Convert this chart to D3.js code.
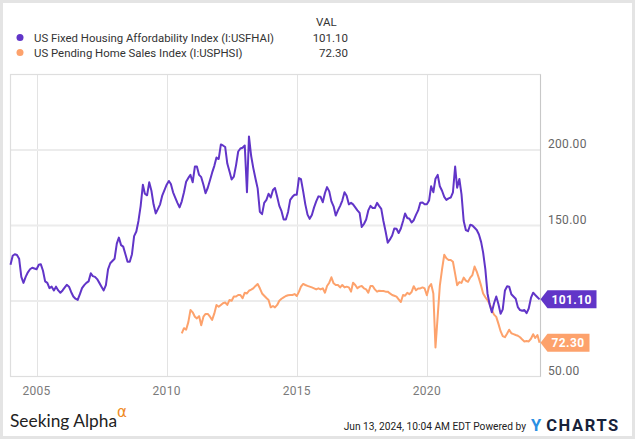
<!DOCTYPE html>
<html><head><meta charset="utf-8">
<script src="https://cdn.jsdelivr.net/npm/d3@7"></script>
<style>body{margin:0;background:#fff}svg{display:block;font-family:Roboto,"Noto Sans",sans-serif}</style>
</head><body><svg id="c" width="635" height="439"></svg>
<script>
// Monthly values, starting Jan 2004
const affordabilityStart = [2004, 0];
const affordability = [
 124,130,131,130.5,128,116,112,116,119,121,122,121.5,
 121,124,124.4,120,113,112,108.5,109.5,107,109.5,107,105.5,
 107,109,110.7,109.5,106,103,101.5,100.7,104.5,108.5,110.5,112,
 113,118.4,116.5,116,114.5,112,109.5,107,110.5,121,125,126.5,
 128,138,142,137,136,131,126,126,131,143,146,153,
 163,177,171,170,178.6,173,164,158,161,164,170,173.5,
 177,179.5,177.5,172,168.5,165,162,166,172,179,181.5,183.5,
 178.6,189,189,183.5,182,177,171.4,175,180,185,189.5,195,
 194,203.7,203,202,191,185.7,180.5,182.4,190,199,201,201.5,
 203,172,209,196,188,181,174.6,159,157.5,165,167,171,
 168.5,173.5,174.8,169,163,159.5,154,154,159,167,169,170.4,
 170.4,181.4,180.7,172.6,164,157.2,154.4,157,162,166,169.3,169,
 165.4,171.5,175.4,172.6,166,162.7,156.6,160,163,166.5,172,169.7,
 164,165,164,162,160,158.3,149,151,154,160,163,161.6,
 161.6,165,163,161,153,146,138.6,140.8,143.4,148,147.8,145,
 148,153,158,155,154.5,152,153.5,157,160,165,165.2,164,
 164,166.5,176,172,181,183.5,176,173,169,167,168,168.5,
 172,189,175,180.8,170.8,153,147,146.2,150.5,150,148.5,147,
 144,139,132,121,105,97.5,92.5,98.5,103,98,91.5,94.5,
 107,109.8,109.5,104.5,103,101.5,96,94,93.5,94,92,95,
 102,105.5,104,102.5,101.1
];
// Monthly values, starting Aug 2010
const pendingStart = [2010, 7];
const pending = [
 78.6,82,81,86,94,
 92.5,89.6,88.5,90,84,89.6,91.4,91.4,89.6,87.5,91.8,97.4,
 96.2,97.4,98.5,99,97.4,100.7,100.2,103,103,104,104,101.8,
 105.5,105,106.8,107.5,108.4,110,111.3,108.4,105,103.5,102,100.7,
 95.8,96.7,95.8,97.4,100.2,101.5,102.4,103.3,103.8,104,104,104.6,
 103.3,106.2,109.5,111.3,110.6,110,109.5,109,108.4,107.7,108.4,107.7,
 108.4,105.5,109.9,112.1,115.7,111.7,110.6,110.6,109,110.6,109,109.5,
 109,106.2,112.1,110.6,108.4,109.5,109.9,108.4,107.7,105.5,109.9,109.9,
 107.7,106.2,106.8,106.7,106.6,106.2,106.2,105,104,103.5,102.9,101.1,
 99.3,104,103.5,105.4,104.5,106,109.8,107.1,108.3,108.3,109,108.3,
 103.8,109.4,111.2,105,69.2,90,110,121,130.6,128.3,127.2,127.2,
 126,118,110.5,112.5,112,115.5,113.5,112.7,115.5,117.2,122.8,119.5,
 115,110,105,102.5,100.5,98,94,91,89.5,85,80,76.8,
 76,78.5,81,78.6,78.1,77.5,77,76,74.5,73.2,73.5,73.2,
 75,78,75.5,77.5,72.3
];
const seriesNames = ["US Fixed Housing Affordability Index (I:USFHAI)","US Pending Home Sales Index (I:USPHSI)"];
const lastValues = ["101.10","72.30"];
const yGrid = [100,150,200];
const yTickLabels = [50,150,200];
const xTickYears = [2005,2010,2015,2020];
const colors = ["#6135c8","#fda26c"];

const toSeries = (start, vals) => vals.map((v,i)=>({d:new Date(start[0], start[1]+i, 1), v}));
const s1 = toSeries(affordabilityStart, affordability);
const s2 = toSeries(pendingStart, pending);

const svg = d3.select("#c");
const L=10.5, R=540.5, T=74.5, B=376.5;
const x = d3.scaleTime().domain([new Date(2004,0,1), new Date(2024,4,14)]).range([L,R]);
const y = d3.scaleLinear().domain([50,250]).range([B,T]);

// outer frame
svg.append("rect").attr("x",1.5).attr("y",1.5).attr("width",632).attr("height",436)
  .attr("fill","#fff").attr("stroke","#e4e4e4").attr("stroke-width",3);

// gridlines
const g = svg.append("g");
g.selectAll(".vg").data(xTickYears).join("line")
  .attr("x1",d=>Math.round(x(new Date(d,0,1)))+0.5).attr("x2",d=>Math.round(x(new Date(d,0,1)))+0.5)
  .attr("y1",T).attr("y2",B).attr("stroke","#e3e3e3").attr("stroke-width",1);
g.selectAll(".hg").data(yGrid).join("line")
  .attr("x1",L).attr("x2",R).attr("y1",d=>y(d)).attr("y2",d=>y(d))
  .attr("stroke","#ececec").attr("stroke-width",2);
// plot frame
svg.append("rect").attr("x",L).attr("y",T).attr("width",R-L).attr("height",B-T)
  .attr("fill","none").attr("stroke","#dedede").attr("stroke-width",1.2);
svg.append("line").attr("x1",R).attr("x2",R).attr("y1",T).attr("y2",B).attr("stroke","#c8c8c8");

// y labels
svg.selectAll(".yl").data(yTickLabels).join("text")
  .attr("x",548).attr("y",d=>y(d)-2).attr("font-size",12).attr("fill","#666")
  .attr("letter-spacing",0.3).text(d=>d3.format(".2f")(d));
// x labels
svg.selectAll(".xl").data(xTickYears).join("text")
  .attr("x",d=>x(new Date(d,0,1))).attr("y",395).attr("text-anchor","middle")
  .attr("font-size",12).attr("fill","#7a7a7a").attr("letter-spacing",0.3).text(d=>d);

// lines
const line = d3.line().x(d=>x(d.d)).y(d=>y(d.v));
svg.append("path").datum(s2).attr("d",line).attr("fill","none").attr("stroke",colors[1])
  .attr("stroke-width",2).attr("stroke-linejoin","round");
svg.append("path").datum(s1).attr("d",line).attr("fill","none").attr("stroke",colors[0])
  .attr("stroke-width",2).attr("stroke-linejoin","round");

// badges
const badges = [{s:s1, label:lastValues[0], c:colors[0], w:56},{s:s2, label:lastValues[1], c:colors[1], w:49}];
badges.forEach(b=>{
  const yy = y(b.s[b.s.length-1].v);
  svg.append("path").attr("d",`M${R},${yy} L${R+7},${yy-9} L${R+b.w},${yy-9} L${R+b.w},${yy+9} L${R+7},${yy+9} Z`).attr("fill",b.c);
  svg.append("text").attr("x",R+11).attr("y",yy+4.5).attr("font-size",12).attr("font-weight","bold")
    .attr("fill","#fff").attr("letter-spacing",0.4).text(b.label);
});

// legend
svg.append("text").attr("x",316).attr("y",26).attr("font-size",11.5).attr("fill","#333").text("VAL");
seriesNames.forEach((n,i)=>{
  const yy = 42 + i*15;
  svg.append("circle").attr("cx",20).attr("cy",yy-4.5).attr("r",3.5).attr("fill",colors[i]);
  svg.append("text").attr("x",34).attr("y",yy).attr("font-size",11.4).attr("fill","#333").text(n);
  svg.append("text").attr("x",348).attr("y",yy).attr("text-anchor","end").attr("font-size",11.5).attr("fill","#333").text(lastValues[i]);
});

// footer
svg.append("text").attr("x",10).attr("y",427).attr("font-family","Lato, 'Open Sans', sans-serif")
  .attr("font-size",17).attr("fill","#222").attr("textLength",107).attr("lengthAdjust","spacingAndGlyphs").text("Seeking Alpha");
svg.append("text").attr("x",117).attr("y",417).attr("font-family","'DejaVu Sans', sans-serif")
  .attr("font-size",15).attr("fill","#f08a24").text("α");
svg.append("text").attr("x",526).attr("y",430).attr("text-anchor","end").attr("font-size",10.2).attr("fill","#222")
  .text("Jun 13, 2024, 10:04 AM EDT Powered by");
const yc = svg.append("text").attr("x",531).attr("y",431).attr("font-size",16.5).attr("font-weight","bold");
yc.append("tspan").attr("fill","#2a8fe3").text("Y");
yc.append("tspan").attr("dx",5).attr("fill","#17223a").attr("letter-spacing",1.6).text("CHARTS");
</script></body></html>
